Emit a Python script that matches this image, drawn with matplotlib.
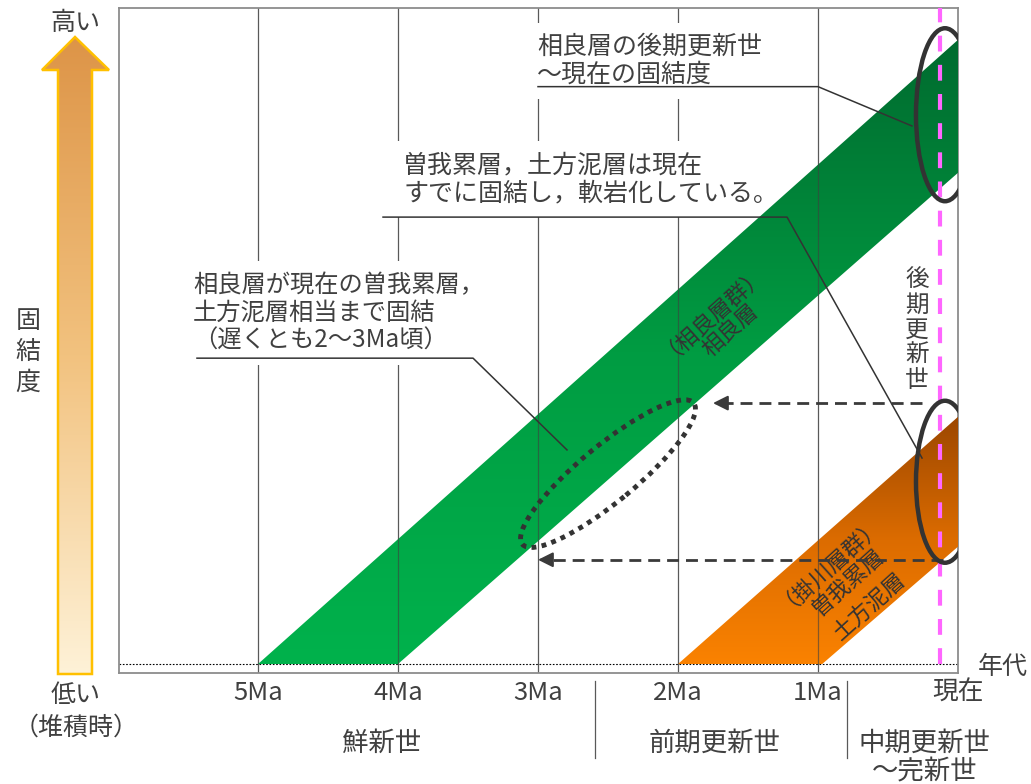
import numpy as np
import matplotlib.pyplot as plt
from matplotlib.patches import Polygon, Ellipse
from matplotlib.colors import LinearSegmentedColormap
from matplotlib.transforms import ScaledTranslation

plt.rcParams['font.family'] = ['Noto Sans CJK JP', 'DejaVu Sans']

# 年代 (Ma) / 固結度 (相対値 0-100)
sagara_age = [5.0, 4.0, 0.0, 0.0]
sagara_cons = [0.0, 0.0, 78.7, 100.0]
kakegawa_age = [2.0, 0.97, 0.0, 0.0]
kakegawa_cons = [0.0, 0.0, 18.8, 39.6]

tick_age = [5, 4, 3, 2, 1, 0]
tick_labels = ['5Ma', '4Ma', '3Ma', '2Ma', '1Ma', '現在']
epoch_bounds = [2.59, 0.79]
epoch_names = ['鮮新世', '前期更新世', '中期更新世', '～完新世']
epoch_x = [4.12, 1.74, 0.24, 0.24]
late_pleist = 0.126

# 現在の掛川層群の固結度 -> 相良層が同じ固結度に達した年代
arrow_cons = [41.8, 16.7]
arrow_from = [0.26, 0.11]
arrow_to = [1.77, 3.02]

TXT = '#404040'

fig = plt.figure(figsize=(10.31, 7.84), dpi=100)
ax = fig.add_axes([119 / 1031, 111 / 784, 839 / 1031, 665 / 784])


def band(xs, ys, colors, y0, y1):
    poly = Polygon(list(zip(xs, ys)), closed=True, fc='none', ec='none')
    ax.add_patch(poly)
    cmap = LinearSegmentedColormap.from_list('b', colors)
    grad = np.linspace(0, 1, 256).reshape(-1, 1)
    im = ax.imshow(grad, cmap=cmap, origin='lower', aspect='auto',
                   extent=(min(xs), max(xs), y0, y1), zorder=3.2)
    im.set_clip_path(poly)
    return poly


polys = [band(sagara_age, sagara_cons, ['#00B24C', '#009C42', '#006B2F'], 0, max(sagara_cons)),
         band(kakegawa_age, kakegawa_cons, ['#FA8200', '#DC6C00', '#9C4700'], 0, max(kakegawa_cons))]

ax.set_xlim(5.993, 0)
ax.set_ylim(-1.44, 105.1)
ax.autoscale(False)

for a in tick_age[:-1]:
    ax.axvline(a, color='#595959', lw=0.9, zorder=2.5)
    # grid shows through the bands
    for p in polys:
        ln = ax.axvline(a, color='#3f3f3f', lw=0.9, alpha=0.6, zorder=3.3)
        ln.set_clip_path(p)
ax.axhline(0, color='black', lw=0.8, ls=(0, (1.5, 1.5)), zorder=2.5)
ax.plot([late_pleist, late_pleist], [0, 105.1], color='#FF66FF', lw=3,
        ls=(0, (3.8, 3.2)), zorder=6)

ax.set_xticks(tick_age)
ax.set_xticklabels(tick_labels)
ax.set_yticks([])
ax.tick_params(axis='x', length=0, pad=5, labelsize=18.5, labelcolor=TXT)
for s in ax.spines.values():
    s.set_color('#8c8c8c')
    s.set_linewidth(1.3)

ax.text(-0.143, -0.5, '年代', fontsize=18, color=TXT, ha='left', va='center')
for b in epoch_bounds:
    ax.plot([b, b], [-2.7, -15.1], color='#595959', lw=0.9, clip_on=False)
ax.text(epoch_x[0], -12.66, epoch_names[0], fontsize=19, color=TXT, ha='center', va='center')
ax.text(epoch_x[1], -12.66, epoch_names[1], fontsize=19, color=TXT, ha='center', va='center')
ax.text(epoch_x[2], -12.66, epoch_names[2], fontsize=19, color=TXT, ha='center', va='center')
ax.text(epoch_x[3], -17.3, epoch_names[3], fontsize=19, color=TXT, ha='center', va='center')


def slanted_label(x, y, lines, angle, step):
    # one text per line, stacked perpendicular to the slant
    r = np.deg2rad(angle)
    n = len(lines)
    for i, s in enumerate(lines):
        k = i - (n - 1) / 2
        off = ScaledTranslation(k * step * np.sin(r), -k * step * np.cos(r), fig.dpi_scale_trans)
        ax.text(x, y, s, fontsize=16, color='#333333', rotation=angle, ha='center',
                va='center', rotation_mode='anchor', transform=ax.transData + off, zorder=4)


slanted_label(1.70, 55.3, ['（相良層群）', '相良層'], 42, 0.32)
slanted_label(0.786, 13.1, ['（掛川層群）', '曽我累層', '土方泥層'], 42, 0.33)
ax.text(0.293, 53.5, '後\n期\n更\n新\n世', fontsize=17, color=TXT, ha='center',
        va='center', linespacing=1.12, zorder=4)

# callouts
box = dict(boxstyle='square,pad=0.45', fc='white', ec='none')
ax.text(3.007, 96.6, '相良層の後期更新世\n～現在の固結度', fontsize=18, color=TXT,
        ha='left', va='center', linespacing=1.1, bbox=box, zorder=3)
ax.plot([3.00, 1.0, 0.329], [92.5, 92.5, 86.2], color='#333333', lw=1.1, zorder=4)

ax.text(3.964, 77.7, '曽我累層，土方泥層は現在\nすでに固結し，軟岩化している。', fontsize=18,
        color=TXT, ha='left', va='center', linespacing=1.1, bbox=box, zorder=3)
ax.plot([4.107, 1.221, 0.257], [71.6, 71.6, 33.0], color='#333333', lw=1.1, zorder=4)

ax.text(5.464, 56.25, '相良層が現在の曽我累層，\n土方泥層相当まで固結\n（遅くとも2～3Ma頃）',
        fontsize=17.5, color=TXT, ha='left', va='center', linespacing=1.1, bbox=box, zorder=3)
ax.plot([5.436, 3.464, 2.793], [49.0, 49.0, 34.3], color='#333333', lw=1.1, zorder=4)

# dashed arrows
for c, x0, x1 in zip(arrow_cons, arrow_from, arrow_to):
    ax.plot([x0, x1 - 0.08], [c, c], color='#3a3a3a', lw=2, ls=(0, (4.3, 2.5)), zorder=4)
    ax.annotate('', xy=(x1, c), xytext=(x1 - 0.12, c),
                arrowprops=dict(arrowstyle='-|>,head_length=0.9,head_width=0.45',
                                color='#3a3a3a', lw=1.5), zorder=4)


def px_ellipse(x, y, w, h, angle, **kw):
    tr = fig.dpi_scale_trans + ScaledTranslation(x, y, ax.transData)
    e = Ellipse((0, 0), w / 100, h / 100, angle=angle, transform=tr, fill=False, **kw)
    ax.add_patch(e)


px_ellipse(0.093, 88.0, 58, 173, 0, ec='#333333', lw=3.2, zorder=7)
px_ellipse(0.093, 29.2, 58, 162, 0, ec='#333333', lw=3.2, zorder=7)
px_ellipse(2.50, 30.5, 222, 56, 39.5, ec='#333333', lw=3.5, ls=(0, (1, 1.1)), zorder=7)

# left arrow (固結度)
axl = fig.add_axes([0, 0, 119 / 1031, 1])
axl.set_xlim(0, 119)
axl.set_ylim(784, 0)
axl.axis('off')
shape = Polygon([(58, 674), (92, 674), (92, 70), (109, 70), (75, 37), (42, 70), (58, 70)],
                closed=True, fc='none', ec='#FFC000', lw=1.8, zorder=3)
axl.add_patch(shape)
g = np.linspace(0, 1, 256).reshape(-1, 1)
cm_l = LinearSegmentedColormap.from_list('l', ['#DD9447', '#F2C27F', '#FEF2D8'])
iml = axl.imshow(g, cmap=cm_l, origin='upper', aspect='auto', extent=(40, 111, 676, 35), zorder=2)
iml.set_clip_path(shape)
axl.set_xlim(0, 119)
axl.set_ylim(784, 0)

axl.text(75, 23, '高い', fontsize=18, color=TXT, ha='center', va='center')
axl.text(28, 352, '固\n結\n度', fontsize=18, color=TXT, ha='center', va='center', linespacing=1.25)
axl.text(76, 695, '低い', fontsize=18, color=TXT, ha='center', va='center')
axl.text(76, 728, '（堆積時）', fontsize=18, color=TXT, ha='center', va='center')

fig.savefig('out.png', dpi=100)
